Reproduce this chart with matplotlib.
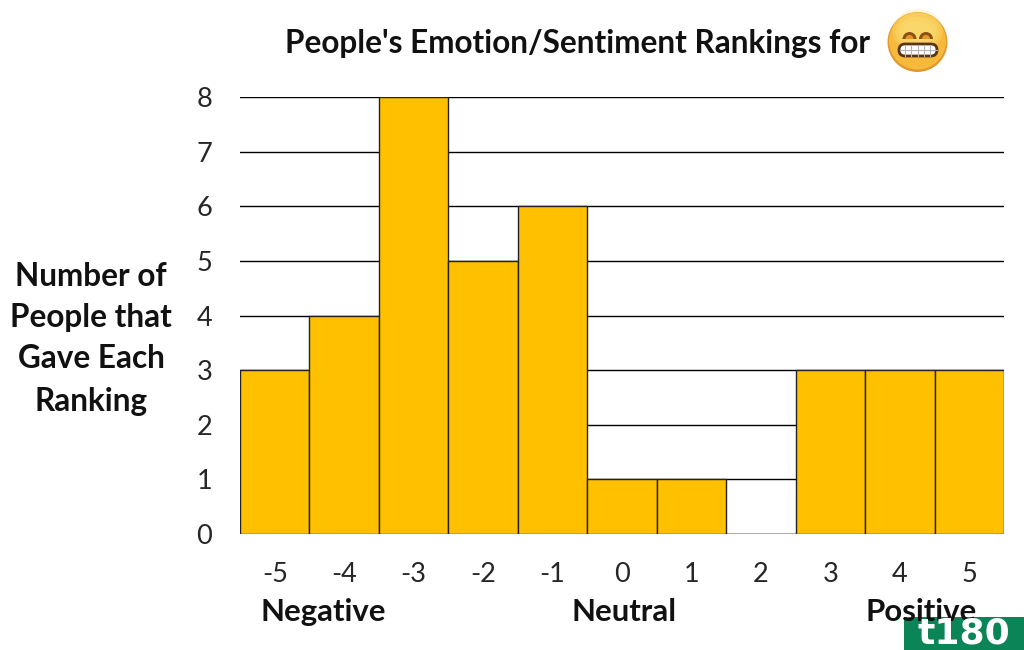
import matplotlib
matplotlib.use('Agg')
import matplotlib.pyplot as plt
from matplotlib.patches import Circle, Ellipse, FancyBboxPatch, Rectangle, Wedge

plt.rcParams['font.family'] = ['Lato', 'DejaVu Sans']

rankings = ['-5', '-4', '-3', '-2', '-1', '0', '1', '2', '3', '4', '5']
counts = [3, 4, 8, 5, 6, 1, 1, 0, 3, 3, 3]
title = "People's Emotion/Sentiment Rankings for"
ylabel_lines = ['Number of', 'People that', 'Gave Each', 'Ranking']
sentiments = ['Negative', 'Neutral', 'Positive']

fig = plt.figure(figsize=(10.24, 6.5), dpi=100)
W, H = 1024, 650
ax = fig.add_axes([240 / W, 1 - 534 / H, 764 / W, 437 / H])

ax.yaxis.grid(True, color='black', linewidth=1)
ax.set_axisbelow(True)
ax.bar(range(len(counts)), counts, width=1, color='#ffc000', edgecolor='#222222', linewidth=1)
ax.set_xlim(-0.5, 10.5)
ax.set_ylim(0, 8)
ax.set_xticks(range(len(rankings)))
ax.set_xticklabels(rankings)
ax.set_yticks(range(9))
ax.tick_params(axis='both', length=0, labelsize=19.5, labelcolor='#262626')
ax.tick_params(axis='x', pad=20)
ax.tick_params(axis='y', pad=20)
for s in ax.spines.values():
    s.set_visible(False)

# overlay in pixel coordinates for the free text, emoji and logo
ov = fig.add_axes([0, 0, 1, 1], zorder=5)
ov.set_xlim(0, W)
ov.set_ylim(H, 0)
ov.axis('off')
ov.patch.set_alpha(0)

ov.text(578, 43, title, fontsize=22.7, fontweight='bold', ha='center', va='center', color='#111111')

for y, line in zip([277, 318, 359, 401], ylabel_lines):
    ov.text(91, y, line, fontsize=22.7, fontweight='bold', ha='center', va='center', color='#111111')

for x, word in zip([323, 624, 921], sentiments):
    ov.text(x, 612, word, fontsize=22.4, fontweight='bold', ha='center', va='center', color='#111111')

# emoji, soft highlight built from a few stacked ellipses
ov.add_patch(Circle((917.5, 42), 30, facecolor='#e09a30', edgecolor='none'))
ov.add_patch(Circle((917.5, 41), 28.5, facecolor='#f7b93c', edgecolor='none'))
for ew, eh in [(50, 44), (44, 36), (38, 28), (30, 20)]:
    ov.add_patch(Ellipse((917.5, 31), ew, eh, facecolor='#fde27c', edgecolor='none', alpha=0.3))
# y axis is flipped here, so 180-360 is the upper half of the wedge
for ex in (909.5, 926):
    ov.add_patch(Wedge((ex, 39), 7, 180, 360, facecolor='#8a5212', edgecolor='none'))
    ov.add_patch(Wedge((ex, 39), 4, 180, 360, facecolor='#e8962a', edgecolor='none'))
ov.add_patch(FancyBboxPatch((899, 44), 38, 12, boxstyle='round,pad=0,rounding_size=6',
                            facecolor='white', edgecolor='#5a3510', linewidth=2))
for tx in (905, 911, 917.5, 924, 930):
    ov.plot([tx, tx], [44.5, 55.5], color='#b5b5b5', linewidth=0.8)
ov.plot([899.5, 936.5], [50, 50], color='#b5b5b5', linewidth=0.8)

# watermark
ov.add_patch(Rectangle((904, 617), 120, 33, facecolor='#0b8457', edgecolor='none'))
ov.text(964, 634, 't180', fontsize=26, fontweight='bold', family='DejaVu Sans',
        ha='center', va='center', color='white')

fig.savefig('out.png', dpi=100)
